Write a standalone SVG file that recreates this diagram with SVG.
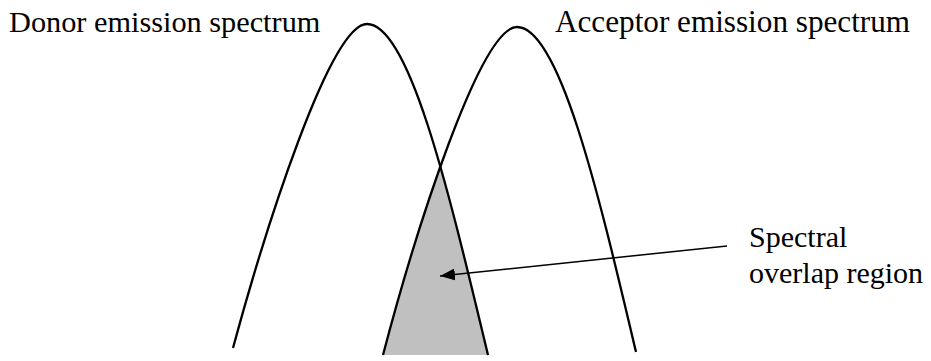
<svg xmlns="http://www.w3.org/2000/svg" width="931" height="361" viewBox="0 0 931 361">
<style>
.curve{fill:none;stroke:#000;stroke-width:2.3}
.lbl{font-family:"Liberation Serif","Times New Roman",serif;font-size:30px;fill:#000}
</style>
<defs>
<clipPath id="donorClip">
<path d="M233,348 C265,230 330,24 367,24 C410,24 450,197 488,355 L233,355 Z"/>
</clipPath>
<marker id="arrow" markerUnits="userSpaceOnUse" markerWidth="16" markerHeight="12" refX="15" refY="6" orient="auto">
<path d="M0,0 L15,6 L0,12 Z" fill="#000"/>
</marker>
</defs>
<rect width="931" height="361" fill="#fff"/>
<g id="overlap">
<path d="M383,355 C415,233 480,27 517,27 C560,27 600,200 636,352 L636,355 Z" fill="#c0c0c0" clip-path="url(#donorClip)"/>
</g>
<g id="donor">
<path class="curve" d="M233,348 C265,230 330,24 367,24 C410,24 450,197 488,355"/>
<text class="lbl" style="font-size:30.3px" x="9" y="32">Donor emission spectrum</text>
</g>
<g id="acceptor">
<path class="curve" d="M383,355 C415,233 480,27 517,27 C560,27 600,200 636,352"/>
<text class="lbl" style="font-size:31.2px" x="555" y="32">Acceptor emission spectrum</text>
</g>
<g id="label">
<text class="lbl" x="749" y="247">Spectral</text>
<text class="lbl" x="749" y="283">overlap region</text>
</g>
<g id="connectors">
<line x1="727" y1="246" x2="440" y2="276" stroke="#000" stroke-width="1.5" marker-end="url(#arrow)"/>
</g>
</svg>
